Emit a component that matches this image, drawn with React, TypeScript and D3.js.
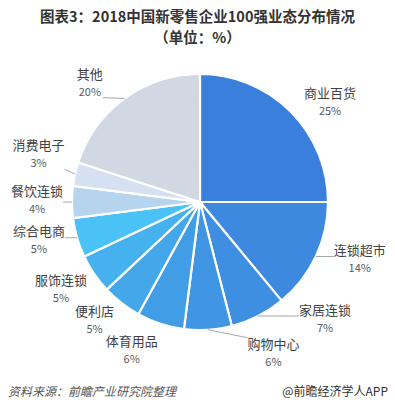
import React from 'react';
import * as d3 from 'd3';

// 2018中国新零售企业100强业态分布 (%)
const categories = ['商业百货', '连锁超市', '家居连锁', '购物中心', '体育用品', '便利店', '服饰连锁', '综合电商', '餐饮连锁', '消费电子', '其他'];
const shares = [25, 14, 7, 6, 6, 5, 5, 5, 4, 3, 20];
const sliceColors = ['#3a7fdc', '#3d89df', '#3e8fe1', '#4096e3', '#419ee6', '#43a7ea', '#46b1ef', '#4bc2f6', '#b7d4ee', '#d5e0f3', '#d1d8e4'];

// label nudges (px) from the default outside spot, like hand-moved Excel labels
const labelNudge: [number, number][] = [[-2, 6], [-2, -7], [31, -17], [38, 1], [4, 5], [6, -1], [11, 3], [9, -4], [13, -2], [11, -15], [-9, 2]];
const showLeader = [false, true, true, true, false, false, false, true, true, true, true];

const W = 395;
const H = 410;
const cx = 200;
const cy = 202;
const r = 128;
const font = '"Noto Sans CJK SC", "Microsoft YaHei", sans-serif';

const App: React.FC = () => {
  const pie = d3.pie<number>().value(d => d).sort(null);
  const arcs = pie(shares);
  const arc = d3.arc<d3.PieArcDatum<number>>().innerRadius(0).outerRadius(r);
  const labelR = r + 22;

  return (
    <svg width={W} height={H} style={{ position: 'absolute', left: 0, top: 0, background: '#fff' }} fontFamily={font}>
      <text x={W / 2} y={22} textAnchor="middle" fontSize={14.5} fontWeight="bold" fill="#333">
        图表3：2018中国新零售企业100强业态分布情况
      </text>
      <text x={W / 2} y={43} textAnchor="middle" fontSize={14.5} fontWeight="bold" fill="#333">
        （单位：%）
      </text>

      <g transform={`translate(${cx},${cy})`}>
        {arcs.map((a, i) => (
          <path key={categories[i]} d={arc(a) || ''} fill={sliceColors[i]} stroke="#fff" strokeWidth={2.2} strokeLinejoin="round" />
        ))}
        {arcs.map((a, i) => {
          const mid = (a.startAngle + a.endAngle) / 2;
          const sx = Math.sin(mid);
          const sy = -Math.cos(mid);
          const side = sx >= 0 ? 1 : -1;
          const nameW = categories[i].length * 13;
          const lx = sx * labelR + side * nameW / 2 + labelNudge[i][0];
          const ly = sy * labelR + labelNudge[i][1];
          // leader line: arc edge -> nearest point of the label box
          const px = sx * r;
          const py = sy * r;
          const bx0 = lx - nameW / 2;
          const bx1 = lx + nameW / 2;
          const by0 = ly - 15;
          const by1 = ly + 15;
          let qx = Math.max(bx0, Math.min(bx1, px));
          let qy = Math.max(by0, Math.min(by1, py));
          if (px > bx0 && px < bx1 && py > by0 && py < by1) { qx = px; qy = py; }
          return (
            <g key={'lbl' + i}>
              {showLeader[i] && (
                <line x1={px} y1={py} x2={qx} y2={qy} stroke="#a6a6a6" strokeWidth={1} />
              )}
              <text x={lx} y={ly - 4} textAnchor="middle" fontSize={13} fill="#404040">{categories[i]}</text>
              <text x={lx} y={ly + 13} textAnchor="middle" fontSize={11} fill="#595959">{shares[i]}%</text>
            </g>
          );
        })}
      </g>

      <text x={8} y={396} fontSize={12} fontStyle="italic" fill="#555">资料来源：前瞻产业研究院整理</text>
      <text x={388} y={396} textAnchor="end" fontSize={12} fill="#333">@前瞻经济学人APP</text>
    </svg>
  );
};

export default App;
